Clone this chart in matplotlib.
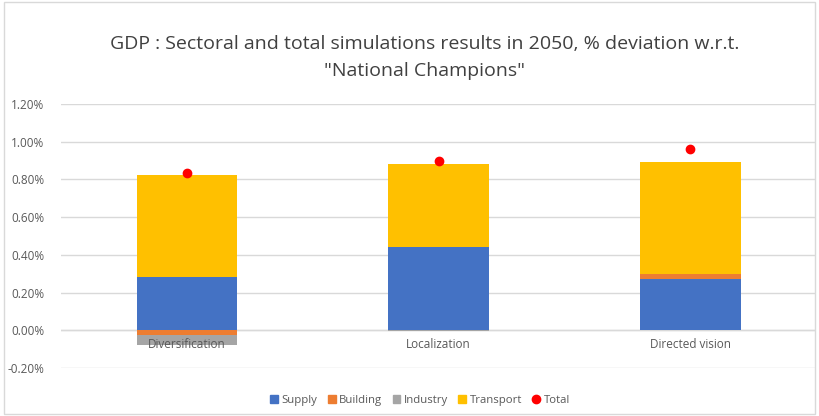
import numpy as np
import matplotlib.pyplot as plt
from matplotlib.ticker import FuncFormatter
from matplotlib.lines import Line2D
from matplotlib.patches import Patch

plt.rcParams['font.family'] = ['Open Sans', 'DejaVu Sans']

categories = ["Diversification", "Localization", "Directed vision"]
supply = [0.283, 0.439, 0.271]
building = [-0.025, 0.003, 0.026]
industry = [-0.052, -0.002, 0.0]
transport = [0.539, 0.440, 0.596]
total = [0.834, 0.900, 0.964]

colors = {"Supply": "#4472C4", "Building": "#ED7D31",
          "Industry": "#A5A5A5", "Transport": "#FFC000"}

fig = plt.figure(figsize=(8.19, 4.16), dpi=100)
ax = fig.add_axes([0.0745, 0.1154, 0.922, 0.6346])

x = np.arange(len(categories))
w = 0.4
pos_base = np.zeros(len(x))
neg_base = np.zeros(len(x))
for name, vals in [("Supply", supply), ("Building", building),
                   ("Industry", industry), ("Transport", transport)]:
    vals = np.array(vals)
    base = np.where(vals >= 0, pos_base, neg_base)
    ax.bar(x, vals, w, bottom=base, color=colors[name], zorder=3)
    pos_base += np.where(vals >= 0, vals, 0)
    neg_base += np.where(vals < 0, vals, 0)

ax.plot(x, total, 'o', color="#FF0000", markersize=6, zorder=4)

ax.set_xlim(-0.5, 2.5)
ax.set_ylim(-0.2, 1.2)
ax.set_yticks(np.arange(-0.2, 1.21, 0.2))
ax.yaxis.set_major_formatter(FuncFormatter(lambda v, p: "%.2f%%" % v))
ax.tick_params(axis='y', length=0, labelsize=8.5, labelcolor="#595959", pad=12)
ax.set_xticks([])
ax.grid(axis='y', color="#D9D9D9", linewidth=1, zorder=0)
for s in ax.spines.values():
    s.set_visible(False)
ax.axhline(0, color="#D9D9D9", linewidth=1, zorder=2)

for xi, c in zip(x, categories):
    ax.text(xi, -0.04, c, ha='center', va='top', fontsize=8.5, color="#595959", zorder=5)

fig.text(0.518, 0.862, 'GDP : Sectoral and total simulations results in 2050, % deviation w.r.t.\n"National Champions"',
         ha='center', va='center', fontsize=14, color="#404040", linespacing=1.6)

handles = [Patch(color=colors[k]) for k in colors]
handles.append(Line2D([], [], marker='o', color="#FF0000", linestyle='None', markersize=6))
labels = list(colors) + ["Total"]
fig.legend(handles, labels, loc='center', bbox_to_anchor=(0.513, 0.038), ncol=5, frameon=False,
           fontsize=8.2, handlelength=0.7, handleheight=0.7, handletextpad=0.3, columnspacing=0.9,
           labelcolor="#595959")

border = plt.Rectangle((0.005, 0.005), 0.99, 0.99, transform=fig.transFigure,
                       fill=False, edgecolor="#D9D9D9", linewidth=1)
fig.patches.append(border)

fig.savefig("out.png", dpi=100)
